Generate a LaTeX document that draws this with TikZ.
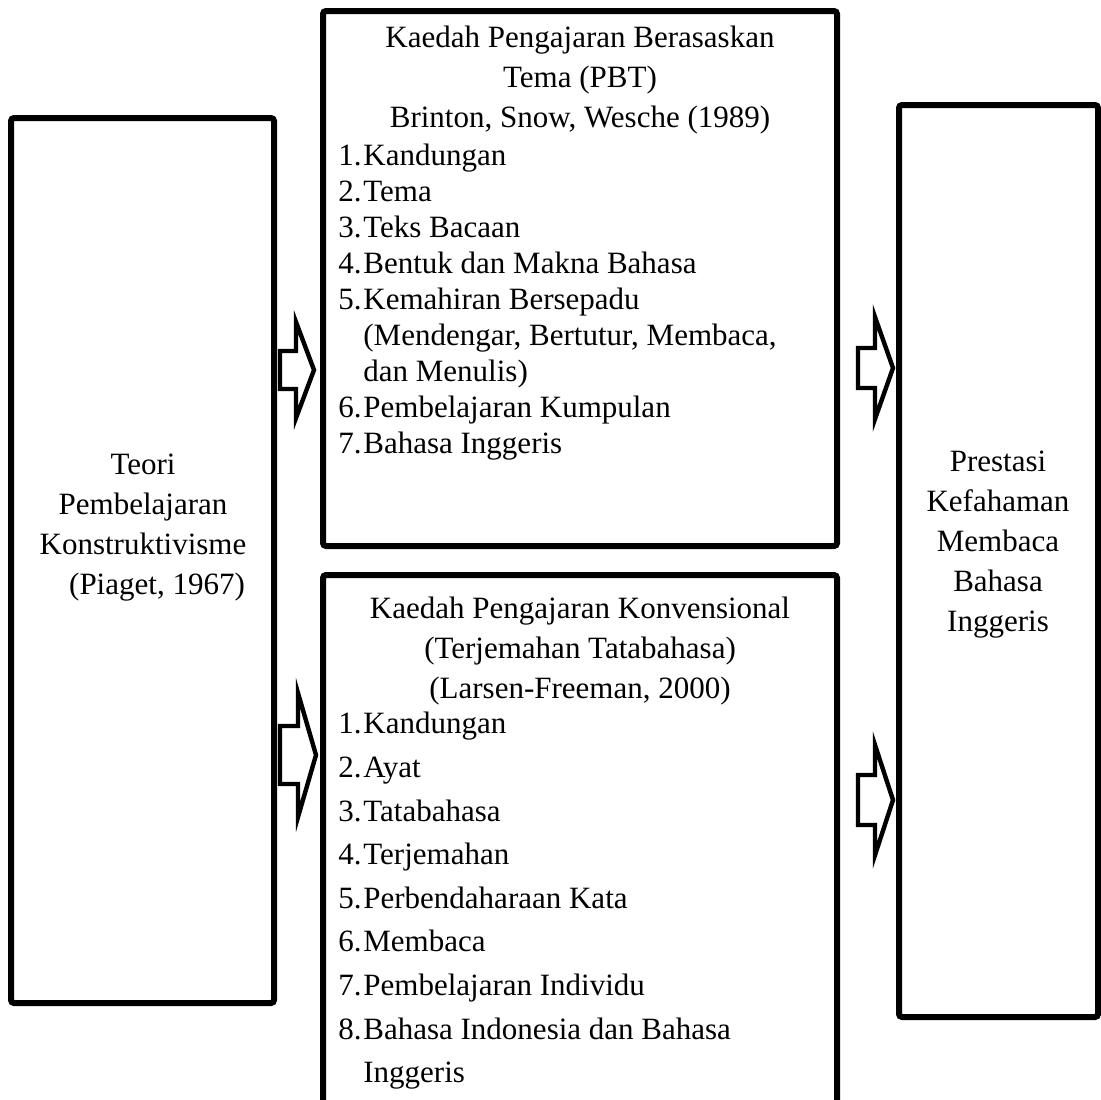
\documentclass[tikz,border=0pt]{standalone}
\usepackage{fontspec}
\setmainfont{Liberation Serif}
\usetikzlibrary{positioning}
\newcommand{\itm}[2]{\makebox[12.5pt][l]{#1}#2}
% block arrow: tip x, tip y, head half height, tail half height, tail length
\newcommand{\blkarrow}[5]{\draw[blk] (#1-#5,#2-#4)--(#1-18,#2-#4)--(#1-18,#2-#3)--(#1,#2)--(#1-18,#2+#3)--(#1-18,#2+#4)--(#1-#5,#2+#4)--cycle;}
\tikzset{frame/.style={draw,line width=3pt,rounded corners=1.5pt,inner sep=0pt},
  txt/.style={font=\fontsize{15.5}{20}\selectfont,align=center,inner sep=0pt},
  lst/.style={txt,align=left},
  blk/.style={draw,line width=2.2pt,line join=miter,fill=white}}
\begin{document}
\begin{tikzpicture}[x=0.5pt,y=-0.5pt]
\useasboundingbox (0,0) rectangle (1101,1099);
\node[frame,minimum width=131.5pt,minimum height=442.5pt] (teori) at (142.5,560.5) {};
\node[frame,minimum width=257pt,minimum height=267.5pt] (pbt) at (580,278.5) {};
\node[frame,minimum width=257pt,minimum height=267.5pt] (konv) at (580,842.5) {};
\node[frame,minimum width=99.5pt,minimum height=456pt] (prestasi) at (998.5,561) {};
\node[txt] (teoritxt) at (143,528) {Teori\\Pembelajaran\\Konstruktivisme\\\hspace*{14pt}(Piaget, 1967)};
\node[txt] (prestasitxt) at (998,545) {Prestasi\\Kefahaman\\Membaca\\Bahasa\\Inggeris};
\node[txt,anchor=north] (pbthead) at (580,26) {Kaedah Pengajaran Berasaskan\\Tema (PBT)\\Brinton, Snow, Wesche (1989)};
\node[lst,font=\fontsize{15.5}{18}\selectfont,anchor=north west] (pbtlist) at (338,144) {\itm{1.}{Kandungan}\\\itm{2.}{Tema}\\\itm{3.}{Teks Bacaan}\\\itm{4.}{Bentuk dan Makna Bahasa}\\\itm{5.}{Kemahiran Bersepadu}\\\itm{}{(Mendengar, Bertutur, Membaca,}\\\itm{}{dan Menulis)}\\\itm{6.}{Pembelajaran Kumpulan}\\\itm{7.}{Bahasa Inggeris}};
\node[txt,anchor=north] (konvhead) at (580,597) {Kaedah Pengajaran Konvensional\\(Terjemahan Tatabahasa)\\(Larsen-Freeman, 2000)};
\node[lst,font=\fontsize{15.5}{21.8}\selectfont,anchor=north west] (konvlist) at (338,712) {\itm{1.}{Kandungan}\\\itm{2.}{Ayat}\\\itm{3.}{Tatabahasa}\\\itm{4.}{Terjemahan}\\\itm{5.}{Perbendaharaan Kata}\\\itm{6.}{Membaca}\\\itm{7.}{Pembelajaran Individu}\\\itm{8.}{Bahasa Indonesia dan Bahasa}\\\itm{}{Inggeris}};
\blkarrow{314}{370}{48}{19}{34}
\blkarrow{316}{755}{62}{29}{36}
\blkarrow{893}{368}{51}{20}{35}
\blkarrow{893}{800}{55}{25}{35}
\end{tikzpicture}
\end{document}
